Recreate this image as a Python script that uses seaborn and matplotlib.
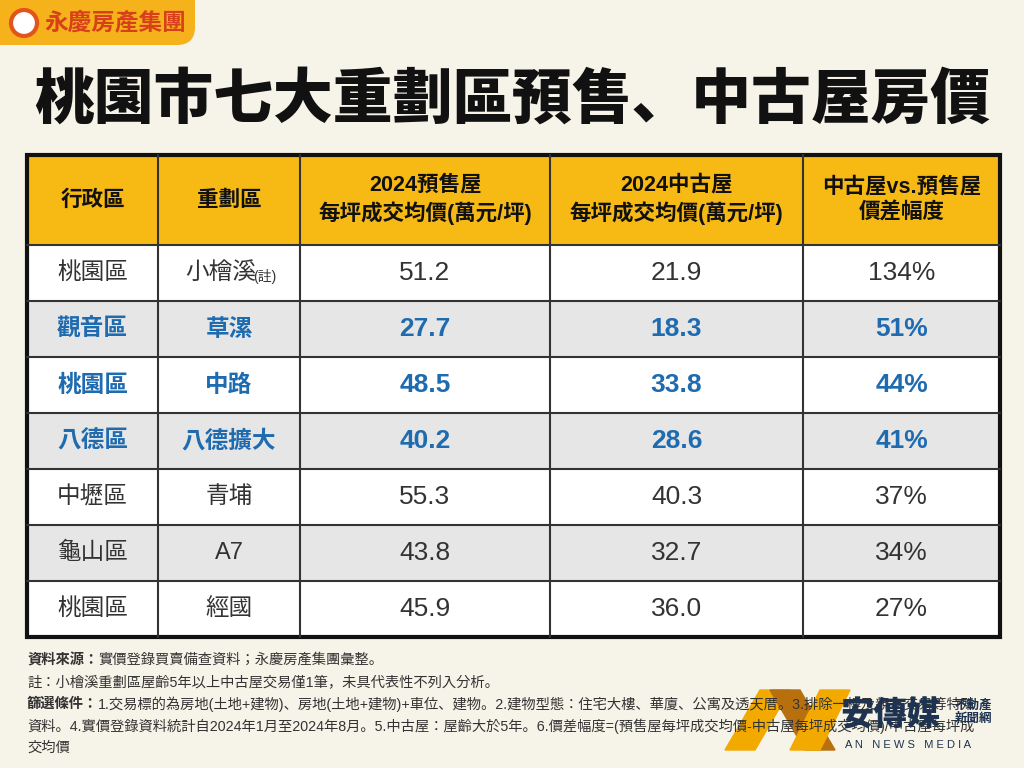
import matplotlib
matplotlib.use("Agg")
import matplotlib.pyplot as plt
import seaborn as sns
import pandas as pd
from matplotlib.patches import Rectangle, FancyBboxPatch
from matplotlib import font_manager

sns.set_theme(style="white")
avail = {f.name for f in font_manager.fontManager.ttflist}
cjk = [n for n in ["Noto Sans CJK TC", "Noto Sans CJK JP", "Noto Sans CJK SC", "Noto Sans CJK KR"] if n in avail]
plt.rcParams["font.family"] = ["Liberation Sans"] + cjk + ["DejaVu Sans"]

districts = ["桃園區", "觀音區", "桃園區", "八德區", "中壢區", "龜山區", "桃園區"]
zones = ["小檜溪", "草漯", "中路", "八德擴大", "青埔", "A7", "經國"]
presale = [51.2, 27.7, 48.5, 40.2, 55.3, 43.8, 45.9]
resale = [21.9, 18.3, 33.8, 28.6, 40.3, 32.7, 36.0]
gap = [134, 51, 44, 41, 37, 34, 27]
highlight = [False, True, True, True, False, False, False]
headers = ["行政區", "重劃區", "2024預售屋\n每坪成交均價(萬元/坪)", "2024中古屋\n每坪成交均價(萬元/坪)", "中古屋vs.預售屋\n價差幅度"]

df = pd.DataFrame({"d": districts, "z": zones, "p": presale, "r": resale, "g": gap, "h": highlight})

BG = "#f6f3e8"
fig = plt.figure(figsize=(10.24, 7.68), dpi=100, facecolor=BG)
ax = fig.add_axes([0, 0, 1, 1])
ax.set_xlim(0, 1024); ax.set_ylim(768, 0); ax.axis("off")

# logo
ax.add_patch(FancyBboxPatch((-20, -20), 215, 65, boxstyle="round,pad=0,rounding_size=18", fc="#f5b21a", ec="none"))
ax.add_patch(plt.Circle((24, 23), 13, fc="white", ec="#e2541b", lw=3))
ax.text(44, 23, "永慶房產集團", fontsize=17, fontweight="bold", color="#d8401b", va="center", ha="left")

ax.text(512, 101, "桃園市七大重劃區預售、中古屋房價", fontsize=43, fontweight="black", ha="center", va="center", color="#111111")

cols = [27, 158, 300, 550, 803, 1000]
top, hh, rh = 155, 90, 56
ax.add_patch(Rectangle((cols[0], top), cols[-1]-cols[0], hh, fc="#f7b913", ec="none"))
for i, h in enumerate(headers):
    ax.text((cols[i]+cols[i+1])/2, top+hh/2, h, fontsize=15.5, fontweight="bold", ha="center", va="center", linespacing=1.3, color="#111")
blue = "#1f6bb0"
for r, row in df.iterrows():
    y0 = top + hh + r*rh
    ax.add_patch(Rectangle((cols[0], y0), cols[-1]-cols[0], rh, fc="#e6e6e6" if r % 2 == 1 else "white", ec="none"))
    c = blue if row.h else "#333333"
    fw = "bold" if row.h else "normal"
    vals = [row.d, row.z, f"{row.p:.1f}", f"{row.r:.1f}", f"{row.g}%"]
    for i, v in enumerate(vals):
        fs = 17 if i < 2 else 19
        cx = (cols[i]+cols[i+1])/2
        if r == 0 and i == 1:
            ax.text(cx-8, y0+rh/2, v, fontsize=fs, ha="center", va="center", color=c, fontweight=fw)
            ax.text(cx+36, y0+rh/2+4, "(註)", fontsize=10, ha="center", va="center", color=c)
        else:
            ax.text(cx, y0+rh/2, v, fontsize=fs, ha="center", va="center", color=c, fontweight=fw)
    ax.plot([cols[0], cols[-1]], [y0, y0], color="#333", lw=1.5)
bottom = top + hh + len(df)*rh
for x in cols[1:-1]:
    ax.plot([x, x], [top, bottom], color="#333", lw=1.5)
ax.add_patch(Rectangle((cols[0], top), cols[-1]-cols[0], bottom-top, fc="none", ec="#111", lw=3))

notes = [
    (660, [("資料來源：", "bold"), ("實價登錄買賣備查資料；永慶房產集團彙整。", "normal")]),
    (682, [("註：小檜溪重劃區屋齡5年以上中古屋交易僅1筆，未具代表性不列入分析。", "normal")]),
    (704, [("篩選條件：", "bold"), ("1.交易標的為房地(土地+建物)、房地(土地+建物)+車位、建物。2.建物型態：住宅大樓、華廈、公寓及透天厝。3.排除一樓及親友交易等特殊", "normal")]),
    (726, [("資料。4.實價登錄資料統計自2024年1月至2024年8月。5.中古屋：屋齡大於5年。6.價差幅度=(預售屋每坪成交均價-中古屋每坪成交均價)/中古屋每坪成", "normal")]),
    (748, [("交均價", "normal")]),
]
for y, parts in notes:
    t = ax.text(27, y, parts[0][0], fontsize=10.3, fontweight=parts[0][1], va="center", color="#333")
    for s, w in parts[1:]:
        t = ax.annotate(s, xycoords=t, xy=(1, 0.5), va="center", fontsize=10.3, fontweight=w, color="#333")

# watermark
ax.fill([725, 760, 790, 755], [750, 690, 690, 750], color="#f2a900")
ax.fill([770, 800, 835, 805], [690, 690, 750, 750], color="#b8700f")
ax.fill([790, 820, 850, 820], [750, 690, 690, 750], color="#f2a900")
ax.text(840, 716, "安傳媒", fontsize=24, fontweight="black", color="#1e3350", va="center")
ax.text(955, 712, "不動產\n新聞網", fontsize=9, fontweight="bold", color="#1e3350", va="center", linespacing=1.1)
ax.text(845, 745, "A N   N E W S   M E D I A", fontsize=8, color="#1e3350", va="center")

fig.savefig("out.png", dpi=100, facecolor=BG)
